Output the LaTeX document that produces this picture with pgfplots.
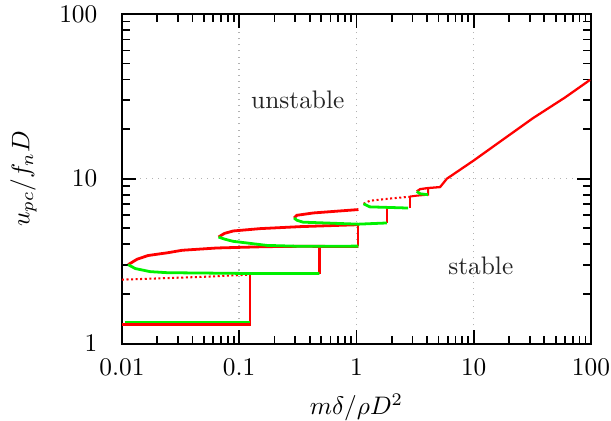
\documentclass[border=0pt]{standalone}
\usepackage{pgfplots}
\pgfplotsset{compat=1.18}
\definecolor{pr}{RGB}{255,0,0}
\definecolor{pg}{RGB}{0,240,0}
\begin{document}
\begin{tikzpicture}
\begin{axis}[
  xmode=log, ymode=log,
  scale only axis, width=185pt, height=130pt,
  xmin=0.01, xmax=100, ymin=1, ymax=100,
  xtick={0.01,0.1,1,10,100}, ytick={1,10,100},
  xticklabels={0.01,0.1,1,10,100}, yticklabels={1,10,100},
  minor xtick={0.02,0.03,0.04,0.05,0.06,0.07,0.08,0.09,0.2,0.3,0.4,0.5,0.6,0.7,0.8,0.9,2,3,4,5,6,7,8,9,20,30,40,50,60,70,80,90},
  minor ytick={2,3,4,5,6,7,8,9,20,30,40,50,60,70,80,90},
  grid=major, major grid style={dotted, gray!60, line width=0.6pt},
  minor grid style={draw=none},
  tick align=inside, major tick length=5.5pt, minor tick length=3pt,
  tick style={black, line width=0.7pt},
  axis line style={line width=0.8pt},
  xticklabel style={inner sep=0pt, yshift=-5.6pt},
  yticklabel style={inner sep=0pt, xshift=-9.5pt},
  xlabel={$m\delta/\rho D^2$}, ylabel={$u_{pc}/f_nD$},
  every axis x label/.style={at={(axis description cs:0.5,-0.152)}, anchor=north, inner sep=0pt},
  every axis y label/.style={at={(axis description cs:-0.181,0.5)}, rotate=90, anchor=south, inner sep=0pt},
  clip=true,
]
% ---------- red series ----------
\addplot[pr, line width=1pt] coordinates {(0.01,1.30) (0.124,1.30) (0.124,2.62)};
\addplot[pr, line width=0.8pt, densely dotted] coordinates {(0.01,2.44) (0.05,2.54) (0.124,2.62)};
\addplot[pr, line width=1.1pt] coordinates {(0.0113,3.01) (0.0135,3.25) (0.0167,3.42) (0.0242,3.55) (0.0327,3.68) (0.0646,3.80) (0.167,3.87) (0.331,3.89) (1.04,3.88)};
\addplot[pr, line width=0.8pt] coordinates {(0.484,2.66) (0.484,3.88)};
\addplot[pr, line width=1.1pt] coordinates {(0.0667,4.43) (0.075,4.66) (0.089,4.82) (0.151,4.98) (0.331,5.12) (1.04,5.26)};
\addplot[pr, line width=0.8pt] coordinates {(1.04,3.9) (1.04,5.39)};
\addplot[pr, line width=1.1pt] coordinates {(0.294,5.78) (0.31,6.0) (0.43,6.2) (1.04,6.5)};
\addplot[pr, line width=0.8pt] coordinates {(1.82,5.39) (1.82,6.6)};
\addplot[pr, line width=0.8pt, densely dotted] coordinates {(1.15,7.05) (1.3,7.35) (2.0,7.6) (2.87,7.78)};
\addplot[pr, line width=0.8pt] coordinates {(2.87,6.64) (2.87,7.8)};
\addplot[pr, line width=0.8pt] coordinates {(2.87,7.8) (3.3,7.9) (4.08,8.0) (4.08,8.78)};
\addplot[pr, line width=0.9pt] coordinates {(3.27,8.38) (3.5,8.65) (4.08,8.78) (5.17,8.9) (5.5,9.4) (5.9,10.0) (10,12.9) (16.8,16.8) (32,23.3) (60,31.1) (98.2,39.8)};
% ---------- green series ----------
\addplot[pg, line width=1.1pt] coordinates {(0.0107,1.35) (0.124,1.35)};
\addplot[pg, line width=1.1pt] coordinates {(0.0113,3.01) (0.013,2.85) (0.0174,2.73) (0.0243,2.69) (0.124,2.66) (0.484,2.66)};
\addplot[pg, line width=1.1pt] coordinates {(0.0667,4.43) (0.075,4.3) (0.089,4.17) (0.172,3.94) (0.331,3.89) (1.04,3.9)};
\addplot[pg, line width=1.1pt] coordinates {(0.294,5.78) (0.31,5.6) (0.35,5.45) (1.04,5.3) (1.82,5.39)};
\addplot[pg, line width=1.1pt] coordinates {(1.15,7.05) (1.3,6.75) (2.76,6.64)};
\addplot[pg, line width=1.1pt] coordinates {(3.27,8.38) (3.5,8.1) (4.08,8.0)};
% ---------- labels ----------
\node[text=black!85] at (axis cs:0.316,30.1) {unstable};
\node[text=black!85] at (axis cs:11.5,2.97) {stable};
\end{axis}
\pgfresetboundingbox
\path ([shift={(-48.1pt,-30.4pt)}]current axis.south west) rectangle ([shift={(7.9pt,5.5pt)}]current axis.north east);
\end{tikzpicture}
\end{document}
